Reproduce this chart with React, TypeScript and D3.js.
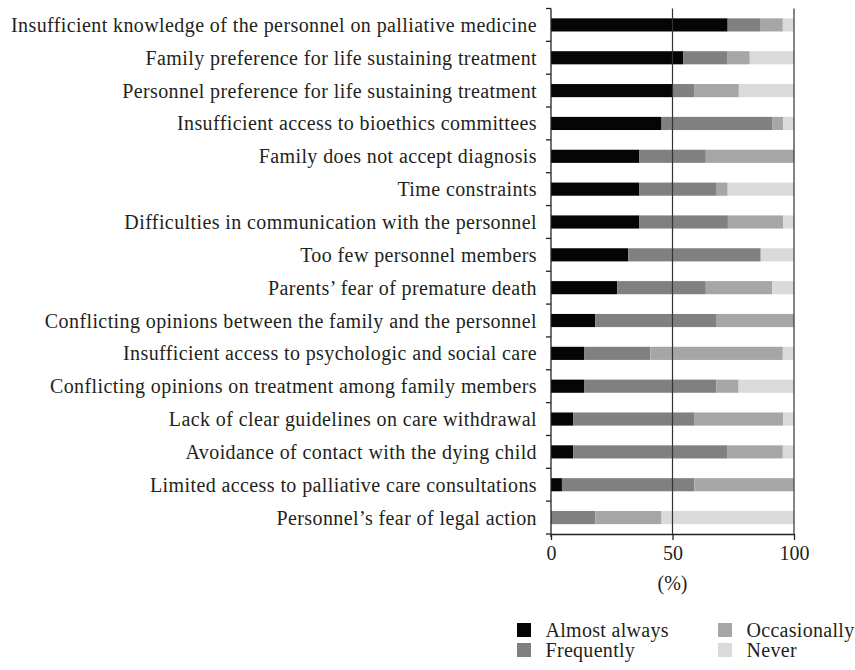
import React, { useEffect, useRef } from 'react';
import * as d3 from 'd3';

const categories = [
  'Insufficient knowledge of the personnel on palliative medicine',
  'Family preference for life sustaining treatment',
  'Personnel preference for life sustaining treatment',
  'Insufficient access to bioethics committees',
  'Family does not accept diagnosis',
  'Time constraints',
  'Difficulties in communication with the personnel',
  'Too few personnel members',
  'Parents\u2019 fear of premature death',
  'Conflicting opinions between the family and the personnel',
  'Insufficient access to psychologic and social care',
  'Conflicting opinions on treatment among family members',
  'Lack of clear guidelines on care withdrawal',
  'Avoidance of contact with the dying child',
  'Limited access to palliative care consultations',
  'Personnel\u2019s fear of legal action',
];

// percentages per answer
const almostAlways = [72.7, 54.5, 50.0, 45.5, 36.4, 36.4, 36.4, 31.8, 27.3, 18.2, 13.6, 13.6, 9.1, 9.1, 4.5, 0];
const frequently = [13.6, 18.2, 9.1, 45.5, 27.3, 31.8, 36.4, 54.5, 36.4, 50.0, 27.3, 54.5, 50.0, 63.6, 54.5, 18.2];
const occasionally = [9.1, 9.1, 18.2, 4.5, 36.4, 4.5, 22.7, 0, 27.3, 31.8, 54.5, 9.1, 36.4, 22.7, 40.9, 27.3];
const never = [4.5, 18.2, 22.7, 4.5, 0, 27.3, 4.5, 13.6, 9.1, 0, 4.5, 22.7, 4.5, 4.5, 0, 54.5];

const seriesNames = ['Almost always', 'Frequently', 'Occasionally', 'Never'];
const seriesColors = ['#050505', '#808080', '#a6a6a6', '#dadada'];
const xTicks = [0, 50, 100];

const App: React.FC = () => {
  const ref = useRef<SVGSVGElement | null>(null);

  useEffect(() => {
    const svg = d3.select(ref.current);
    svg.selectAll('*').remove();
    const font = '"Liberation Serif", serif';
    const ink = '#231f20';
    const fs = 20;
    const ls = 0.4;
    const top = 8.5;
    const bottom = 534;

    const rows = categories.map((c, i) => ({
      key: c,
      vals: [almostAlways[i], frequently[i], occasionally[i], never[i]],
    }));

    const x = d3.scaleLinear().domain([0, 100]).range([551, 794]);
    const y = d3.scaleBand().domain(categories).range([top, bottom]).paddingInner(0.6).paddingOuter(0.3);

    // bars
    const g = svg.append('g');
    rows.forEach((r) => {
      let acc = 0;
      r.vals.forEach((v, j) => {
        if (v > 0) {
          g.append('rect')
            .attr('x', x(acc))
            .attr('y', y(r.key)!)
            .attr('width', x(acc + v) - x(acc))
            .attr('height', y.bandwidth())
            .attr('fill', seriesColors[j]);
        }
        acc += v;
      });
    });

    // vertical lines at 50 and 100
    svg.append('g')
      .selectAll('line')
      .data([50, 100])
      .join('line')
      .attr('x1', (d) => x(d))
      .attr('x2', (d) => x(d))
      .attr('y1', top)
      .attr('y2', bottom)
      .attr('stroke', '#333')
      .attr('stroke-width', 1.2);

    // left axis, ticks at band edges
    const step = y.step();
    const edges = d3.range(categories.length + 1).map((i) => top + i * step);
    const la = svg.append('g');
    la.append('line')
      .attr('x1', x(0)).attr('x2', x(0))
      .attr('y1', top).attr('y2', bottom + 3)
      .attr('stroke', '#222').attr('stroke-width', 1.3);
    la.selectAll('line.t')
      .data(edges)
      .join('line')
      .attr('class', 't')
      .attr('x1', x(0) - 5).attr('x2', x(0))
      .attr('y1', (d) => d).attr('y2', (d) => d)
      .attr('stroke', '#222').attr('stroke-width', 1.3);
    la.selectAll('text')
      .data(categories)
      .join('text')
      .attr('x', 537)
      .attr('y', (d) => y(d)! + y.bandwidth() / 2)
      .attr('dy', '0.35em')
      .attr('text-anchor', 'end')
      .attr('font-family', font)
      .attr('font-size', fs)
      .attr('letter-spacing', ls)
      .attr('fill', ink)
      .text((d) => d);

    // bottom axis
    const ba = svg.append('g').attr('transform', `translate(0,${bottom})`);
    ba.call(d3.axisBottom(x).tickValues(xTicks).tickSize(6).tickPadding(6).tickSizeOuter(0));
    ba.select('.domain').attr('stroke', '#222').attr('stroke-width', 1.3);
    ba.selectAll('.tick line').attr('stroke', '#222').attr('stroke-width', 1.3);
    ba.selectAll('.tick text')
      .attr('font-family', font)
      .attr('font-size', fs)
      .attr('fill', ink);

    svg.append('text')
      .attr('x', x(50))
      .attr('y', 583)
      .attr('dy', '0.35em')
      .attr('text-anchor', 'middle')
      .attr('font-family', font)
      .attr('font-size', fs)
      .attr('fill', ink)
      .text('(%)');

    // legend
    const legendPos = [
      [517, 623], [517, 643], [718, 623], [718, 643],
    ];
    const lg = svg.append('g');
    seriesNames.forEach((name, i) => {
      const [lx, ly] = legendPos[i];
      lg.append('rect')
        .attr('x', lx).attr('y', ly)
        .attr('width', 14).attr('height', 14)
        .attr('fill', seriesColors[i]);
      lg.append('text')
        .attr('x', lx + 28.5)
        .attr('y', ly + 7)
        .attr('dy', '0.35em')
        .attr('font-family', font)
        .attr('font-size', fs)
        .attr('letter-spacing', 0.3)
        .attr('fill', ink)
        .text(name);
    });
  }, []);

  return (
    <svg
      ref={ref}
      width={855}
      height={670}
      style={{ position: 'absolute', left: 0, top: 0, background: '#fff' }}
    />
  );
};

export default App;
